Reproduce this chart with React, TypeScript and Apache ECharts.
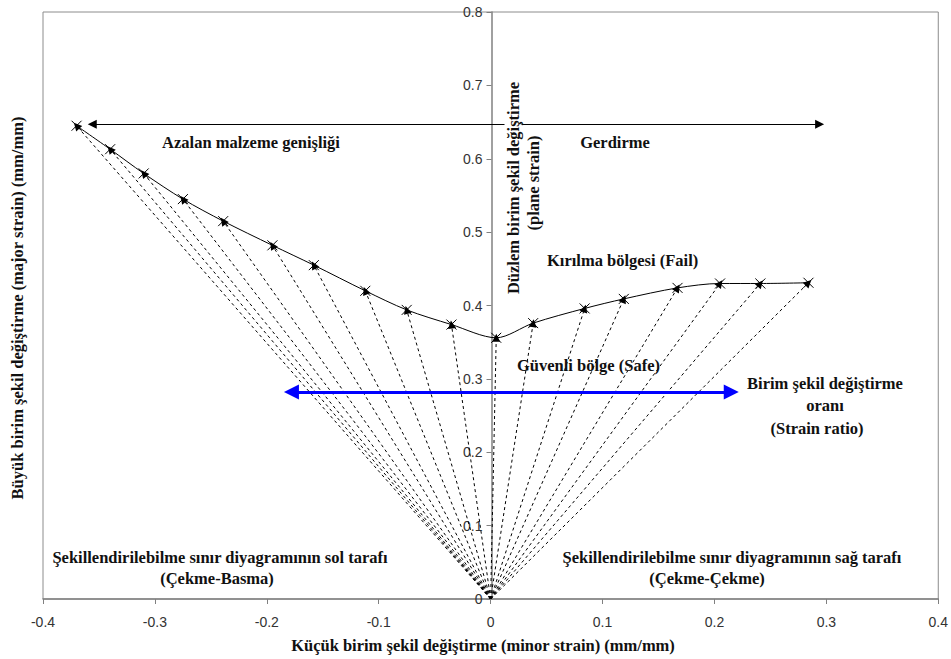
import React, { useEffect, useRef } from "react";
import * as echarts from "echarts";

// Forming limit curve points (minor strain, major strain)
const curveX = [-0.370, -0.340, -0.310, -0.275, -0.239, -0.195, -0.158, -0.112, -0.075, -0.035, 0.005, 0.038, 0.084, 0.119, 0.167, 0.205, 0.241, 0.284];
const curveY = [0.645, 0.613, 0.580, 0.545, 0.515, 0.482, 0.455, 0.420, 0.394, 0.374, 0.356, 0.376, 0.396, 0.409, 0.424, 0.430, 0.430, 0.431];

// strain path origin
const originPoint = [0, 0];

// horizontal arrows
const widthArrowX = [-0.356, 0.294];
const widthArrowY = 0.647;
const ratioArrowX = [-0.178, 0.215];
const ratioArrowY = 0.282;

// axes
const xMin = -0.4, xMax = 0.4, xStep = 0.1;
const yMin = 0, yMax = 0.8, yStep = 0.1;

const xTitle = "Küçük birim şekil değiştirme (minor strain) (mm/mm)";
const yTitle = "Büyük birim şekil değiştirme (major strain) (mm/mm)";

const SERIF = "'Liberation Serif', 'Times New Roman', serif";
const SANS = "'Liberation Sans', Arial, sans-serif";
const FS = 16.5;

const txt = (text: string, x: number, y: number, align: string = "center", extra: any = {}) => ({
  type: "text",
  x,
  y,
  silent: true,
  z: 50,
  ...extra,
  style: {
    text,
    fill: "#111",
    fontFamily: SERIF,
    fontWeight: "bold",
    fontSize: FS,
    textAlign: align,
    textVerticalAlign: "middle",
    ...(extra.style || {}),
  },
});

export default function App() {
  const ref = useRef<HTMLDivElement>(null);
  useEffect(() => {
    if (!ref.current) return;
    const chart = echarts.init(ref.current, undefined, { renderer: "svg" });
    const curve = curveX.map((x, i) => [x, curveY[i]]);
    const rays = curve.map((p) => [
      { coord: originPoint, symbol: "none" },
      { coord: p, symbol: "triangle" },
    ]);
    const gridLeft = 43;
    const gridRight = 11;
    const plotW = 951 - gridLeft - gridRight;
    const option: any = {
      animation: false,
      backgroundColor: "#fff",
      grid: {
        left: gridLeft,
        right: gridRight,
        top: 12,
        bottom: 60,
        show: true,
        borderColor: "#8c8c8c",
        borderWidth: 1,
        backgroundColor: "transparent",
      },
      xAxis: {
        type: "value",
        min: xMin,
        max: xMax,
        interval: xStep,
        splitLine: { show: false },
        axisLine: { show: true, lineStyle: { color: "#808080", width: 1.5 } },
        axisTick: { show: true, length: 5, lineStyle: { color: "#808080" } },
        axisLabel: { color: "#333", fontFamily: SANS, fontSize: 14, margin: 16 },
      },
      yAxis: {
        type: "value",
        min: yMin,
        max: yMax,
        interval: yStep,
        position: "left",
        offset: -plotW * ((0 - xMin) / (xMax - xMin)),
        splitLine: { show: false },
        axisLine: { show: true, onZero: false, lineStyle: { color: "#808080", width: 1.5 } },
        axisTick: { show: true, length: 5, lineStyle: { color: "#808080" } },
        axisLabel: { color: "#333", fontFamily: SANS, fontSize: 14, margin: 9 },
      },
      series: [
        {
          type: "line",
          name: "rays",
          data: [],
          silent: true,
          markLine: {
            silent: true,
            animation: false,
            symbolSize: 8,
            label: { show: false },
            emphasis: { disabled: true },
            lineStyle: { color: "#000", width: 1, type: [3, 3] },
            itemStyle: { color: "#000" },
            data: rays,
          },
        },
        {
          type: "line",
          name: "widthArrow",
          data: [],
          silent: true,
          markLine: {
            silent: true,
            animation: false,
            symbol: ["triangle", "triangle"],
            symbolSize: 9,
            label: { show: false },
            emphasis: { disabled: true },
            lineStyle: { color: "#000", width: 1, type: "solid" },
            itemStyle: { color: "#000" },
            data: [[{ coord: [widthArrowX[0], widthArrowY] }, { coord: [widthArrowX[1], widthArrowY] }]],
          },
        },
        {
          type: "line",
          name: "ratioArrow",
          data: [],
          silent: true,
          markLine: {
            silent: true,
            animation: false,
            symbol: ["triangle", "triangle"],
            symbolSize: 15,
            label: { show: false },
            emphasis: { disabled: true },
            lineStyle: { color: "#0000ff", width: 3, type: "solid" },
            itemStyle: { color: "#0000ff" },
            data: [[{ coord: [ratioArrowX[0], ratioArrowY] }, { coord: [ratioArrowX[1], ratioArrowY] }]],
          },
        },
        {
          type: "line",
          name: "FLC",
          data: curve,
          smooth: 0.3,
          z: 5,
          symbol: "path://M0,0L10,10M10,0L0,10",
          symbolSize: 10,
          showAllSymbol: true,
          lineStyle: { color: "#000", width: 1 },
          itemStyle: { color: "#000", borderColor: "#000", borderWidth: 1 },
        },
      ],
      graphic: [
        txt(xTitle, 483, 645),
        txt(yTitle, 17, 308, "center", { rotation: Math.PI / 2 }),
        txt("Azalan malzeme genişliği", 251, 142),
        txt("Gerdirme", 615, 142),
        txt("Düzlem birim şekil değiştirme", 513, 188, "center", {
          rotation: Math.PI / 2,
          style: { backgroundColor: "#fff", padding: [0, 2] },
        }),
        txt("(plane strain)", 533, 183, "center", { rotation: Math.PI / 2 }),
        txt("Kırılma bölgesi (Fail)", 547, 260, "left"),
        txt("Güvenli bölge (Safe)", 517, 365, "left"),
        txt("Birim şekil değiştirme", 825, 383),
        txt("oranı", 825, 405),
        txt("(Strain ratio)", 817, 428),
        txt("Şekillendirilebilme sınır diyagramının sol tarafı", 220, 557),
        txt("(Çekme-Basma)", 217, 578),
        txt("Şekillendirilebilme sınır diyagramının sağ tarafı", 732, 557),
        txt("(Çekme-Çekme)", 707, 578),
      ],
    };
    chart.setOption(option);
    return () => chart.dispose();
  }, []);
  return (
    <div
      ref={ref}
      style={{ position: "fixed", left: 0, top: 0, width: 951, height: 659, background: "#fff" }}
    />
  );
}
